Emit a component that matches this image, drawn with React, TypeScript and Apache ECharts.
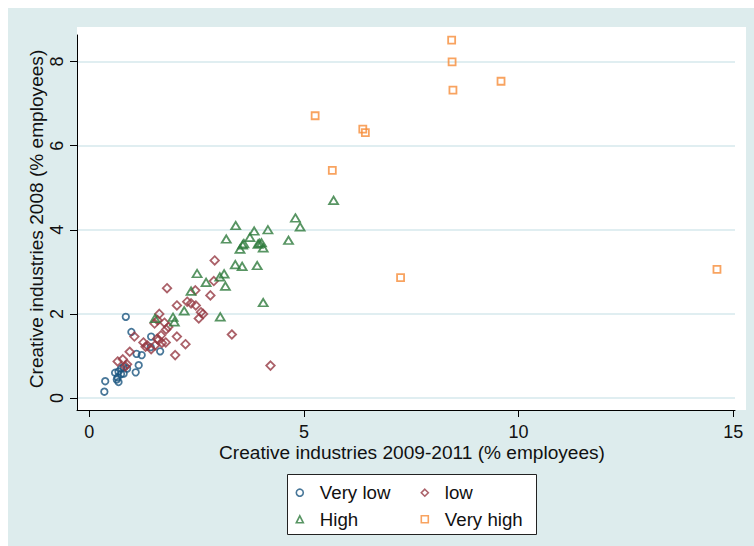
import React, { useEffect, useRef } from "react";
import * as echarts from "echarts";

const X_TITLE = "Creative industries 2009-2011 (% employees)";
const Y_TITLE = "Creative industries 2008 (% employees)";
const X_TICKS = [0, 5, 10, 15];
const Y_TICKS = [0, 2, 4, 6, 8];

const veryLow: number[][] = [
  [0.85, 1.93], [0.98, 1.57], [1.44, 1.46], [1.43, 1.21], [1.1, 1.05], [1.22, 1.02],
  [1.65, 1.11], [1.15, 0.78], [1.08, 0.61], [0.6, 0.6], [0.68, 0.63], [0.74, 0.57],
  [0.8, 0.58], [0.66, 0.49], [0.64, 0.44], [0.68, 0.38], [0.37, 0.4], [0.35, 0.15],
  [0.74, 0.7], [0.8, 0.74], [0.88, 0.7],
];

const low: number[][] = [
  [2.92, 3.27], [1.81, 2.61], [2.9, 2.78], [2.47, 2.56], [2.82, 2.44], [2.04, 2.2],
  [2.28, 2.29], [2.37, 2.25], [2.48, 2.2], [2.6, 2.04], [2.65, 2.0], [2.55, 1.89],
  [1.63, 2.0], [1.52, 1.77], [1.59, 1.85], [1.75, 1.79], [1.84, 1.69], [1.79, 1.63],
  [1.67, 1.49], [1.58, 1.41], [1.69, 1.31], [2.04, 1.46], [1.78, 1.32], [2.24, 1.28],
  [2.0, 1.02], [3.32, 1.51], [4.22, 0.77], [1.05, 1.46], [1.26, 1.32], [1.31, 1.22],
  [1.44, 1.16], [1.35, 1.25], [0.94, 1.1], [0.88, 0.8], [0.66, 0.87], [0.78, 0.92],
  [0.84, 0.75], [1.53, 1.25], [1.61, 1.38],
];

const high: number[][] = [
  [5.69, 4.7], [4.8, 4.28], [4.91, 4.07], [3.41, 4.1], [3.84, 3.97], [4.16, 4.0],
  [3.19, 3.78], [3.74, 3.82], [4.64, 3.75], [3.96, 3.68], [4.01, 3.69], [4.05, 3.57],
  [3.57, 3.64], [3.6, 3.67], [3.51, 3.54], [3.93, 3.66], [3.4, 3.17], [3.56, 3.13],
  [3.91, 3.15], [2.51, 2.96], [3.14, 2.95], [3.04, 2.88], [3.17, 2.66], [2.72, 2.75],
  [2.37, 2.54], [4.05, 2.27], [2.21, 2.07], [3.05, 1.93], [1.95, 1.92], [1.98, 1.81],
  [1.53, 1.89],
];

const veryHigh: number[][] = [
  [8.44, 8.51], [8.45, 7.99], [8.47, 7.32], [9.59, 7.53], [5.26, 6.71], [6.37, 6.39],
  [6.43, 6.31], [5.66, 5.41], [7.25, 2.86], [14.62, 3.06],
];

const BG = "#ddeced";
const FONT = "'Liberation Sans', Arial, Helvetica, sans-serif";

export default function App() {
  const ref = useRef<HTMLDivElement>(null);
  useEffect(() => {
    if (!ref.current) return;
    const chart = echarts.init(ref.current, null, { renderer: "svg" });
    const mk = (name: string, data: number[][], symbol: string, size: any, color: string) => ({
      name,
      type: "scatter",
      data,
      symbol,
      symbolSize: size,
      itemStyle: { color: "rgba(255,255,255,0)", borderColor: color, borderWidth: 1.8 },
      emphasis: { disabled: true },
      z: 3,
    });
    const legendCommon = {
      orient: "vertical",
      top: 482.7,
      itemWidth: 7,
      itemHeight: 7,
      itemGap: 6.6,
      padding: 0,
      selectedMode: false,
      itemStyle: { borderWidth: 1.6 },
      textStyle: { fontSize: 18.7, lineHeight: 20, color: "#111", fontFamily: FONT, padding: [0, 0, 0, 11.5] },
    };
    chart.setOption({
      animation: false,
      backgroundColor: "#ffffff",
      textStyle: { fontFamily: FONT },
      graphic: [
        { type: "rect", z: -10, silent: true, shape: { x: 8, y: 8, width: 746, height: 538 }, style: { fill: BG } },
        { type: "rect", z: -9, silent: true, shape: { x: 77, y: 27, width: 669, height: 383 }, style: { fill: "#ffffff" } },
        { type: "rect", z: 3, silent: true, shape: { x: 287.5, y: 474.5, width: 249, height: 60 }, style: { fill: "#ffffff", stroke: "#222", lineWidth: 1 } },
        { type: "text", z: 5, silent: true, x: 412, y: 452, style: { text: X_TITLE, fontSize: 19.1, fontFamily: FONT, fill: "#111", textAlign: "center", textVerticalAlign: "middle" } },
        { type: "text", z: 5, silent: true, x: 36, y: 219, rotation: Math.PI / 2, style: { text: Y_TITLE, fontSize: 19.1, fontFamily: FONT, fill: "#111", textAlign: "center", textVerticalAlign: "middle" } },
      ],
      grid: { left: 77, right: 754 - 735, top: 35, bottom: 546 - 410, outerBoundsMode: "none", containLabel: false },
      xAxis: {
        type: "value",
        min: -0.287,
        max: 15.04,
        axisLine: { show: true, onZero: false, lineStyle: { color: "#000", width: 1 } },
        axisTick: { show: true, length: 7, customValues: X_TICKS, lineStyle: { color: "#000", width: 1 } },
        axisLabel: { customValues: X_TICKS, fontSize: 18, color: "#111", margin: 13, fontFamily: FONT },
        splitLine: { show: false },
      },
      yAxis: {
        type: "value",
        min: -0.285,
        max: 8.63,
        axisLine: { show: true, onZero: false, lineStyle: { color: "#000", width: 1 } },
        axisTick: { show: true, length: 7, customValues: Y_TICKS, lineStyle: { color: "#000", width: 1 } },
        axisLabel: { customValues: Y_TICKS, fontSize: 18, color: "#111", margin: 11, rotate: 90, fontFamily: FONT },
        splitLine: { show: true, lineStyle: { color: "#d6e9ec", width: 1.6 } },
      },
      legend: [
        { ...legendCommon, left: 295.5, data: ["Very low", "High"] },
        { ...legendCommon, left: 420.5, data: ["low", "Very high"] },
      ],
      series: [
        mk("Very low", veryLow, "circle", 6.5, "#1a5580"),
        mk("low", low, "diamond", [8.5, 8.5], "#963a44"),
        mk("High", high, "triangle", [9, 7.5], "#2e7b3c"),
        mk("Very high", veryHigh, "rect", 7, "#f68c38"),
      ],
    });
    return () => chart.dispose();
  }, []);
  return <div ref={ref} style={{ position: "absolute", left: 0, top: 0, width: 754, height: 546 }} />;
}
